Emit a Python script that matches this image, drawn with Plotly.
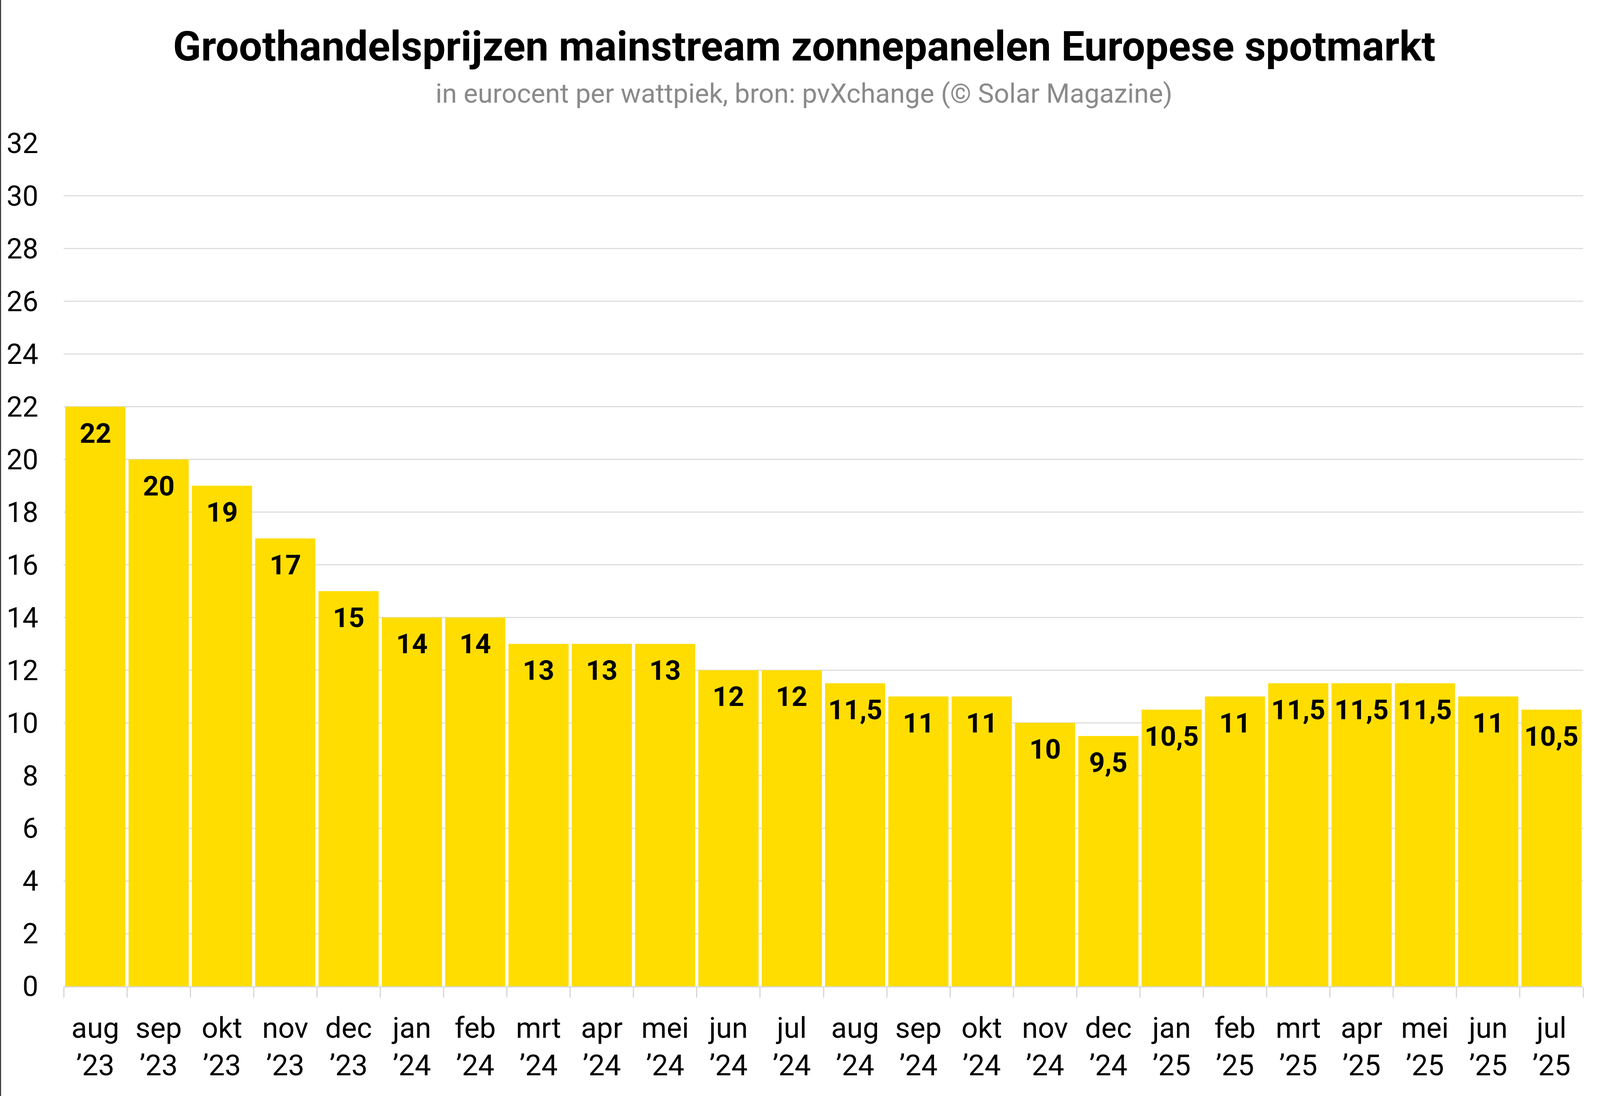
import plotly.graph_objects as go

months = ["aug", "sep", "okt", "nov", "dec", "jan", "feb", "mrt", "apr", "mei", "jun", "jul",
          "aug", "sep", "okt", "nov", "dec", "jan", "feb", "mrt", "apr", "mei", "jun", "jul"]
years = ["’23"] * 5 + ["’24"] * 12 + ["’25"] * 7
prices = [22, 20, 19, 17, 15, 14, 14, 13, 13, 13, 12, 12,
          11.5, 11, 11, 10, 9.5, 10.5, 11, 11.5, 11.5, 11.5, 11, 10.5]
y_ticks = list(range(0, 33, 2))

title = "Groothandelsprijzen mainstream zonnepanelen Europese spotmarkt"
subtitle = "in eurocent per wattpiek, bron: pvXchange (© Solar Magazine)"

# the browser viewport is 4096 x 2807 CSS px; reference measured at 4990 x 2807
W, H = 4096, 2807
SX = W / 4990.0   # horizontal scale of measurements
F = 0.84          # font scale


def fx(v):
    return v * SX


ML, MR, MT, MB = fx(199), fx(52), 367, 281
PW, PH = W - ML - MR, H - MT - MB

cats = [f"{m}<br>{y}" for m, y in zip(months, years)]
labels = [f"{v:g}".replace(".", ",") for v in prices]

fig = go.Figure()
fig.add_trace(go.Bar(
    x=cats, y=prices,
    marker=dict(color="#FFDD00", line=dict(width=0)),
    hoverinfo="skip",
))

for c, v, t in zip(cats, prices, labels):
    fig.add_annotation(x=c, y=v, text=t, showarrow=False, yanchor="middle", yshift=-68,
                       font=dict(family="Roboto", size=84 * F, color="#000000", weight=700))

fig.add_annotation(xref="paper", yref="paper", x=(fx(2508) - ML) / PW, y=(H - MB - 240) / PH,
                   text=subtitle, showarrow=False, xanchor="center", yanchor="middle",
                   font=dict(family="Roboto", size=82 * F, color="#8a8a8a"))

fig.add_shape(type="line", xref="paper", yref="paper",
              x0=(-ML + 1.5) / PW, x1=(-ML + 1.5) / PW,
              y0=-MB / PH, y1=1 + MT / PH,
              line=dict(color="#333333", width=3))

fig.update_layout(
    width=W, height=H,
    margin=dict(l=ML, r=MR, t=MT, b=MB, autoexpand=False),
    paper_bgcolor="white", plot_bgcolor="white",
    bargap=0.05,
    showlegend=False,
    title=dict(text=title, x=fx(2508) / W, xanchor="center", xref="container",
               y=1 - 118 / H, yanchor="middle", yref="container",
               font=dict(family="Roboto", size=129 * 0.82, color="#000000", weight=700)),
    xaxis=dict(
        type="category",
        tickson="boundaries", ticks="outside", ticklen=26, tickwidth=3, tickcolor="#d6d6d6",
        showline=True, linecolor="#d9d9d9", linewidth=3,
        showgrid=False,
        tickfont=dict(family="Roboto", size=88 * F, color="#000000"),
        ticklabelstandoff=40,
    ),
    yaxis=dict(
        range=[0, 32], tickvals=y_ticks, ticktext=[str(v) for v in y_ticks],
        showgrid=True, gridcolor="#dedede", gridwidth=3,
        zeroline=False, showline=False, ticks="",
        tickfont=dict(family="Roboto", size=86 * F, color="#000000"),
        ticklabelstandoff=round(fx(78)),
    ),
)

fig.write_html("out.html", config={"displayModeBar": False},
               post_script="document.body.style.margin='0';document.body.style.overflow='hidden';")
